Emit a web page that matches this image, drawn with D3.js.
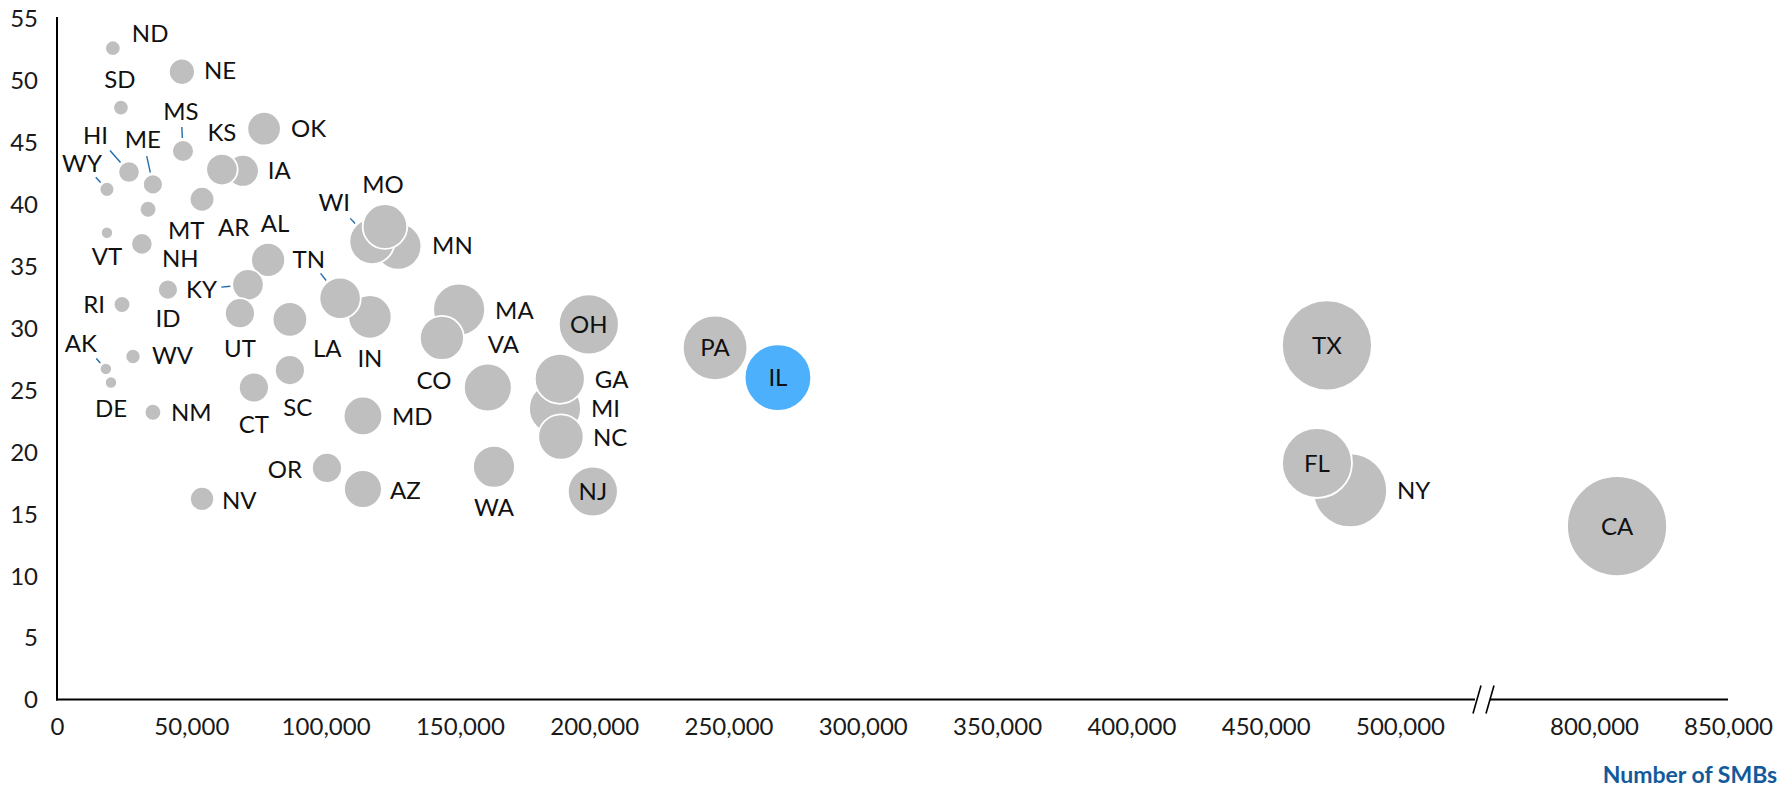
<!DOCTYPE html>
<html>
<head>
<meta charset="utf-8">
<script src="https://cdn.jsdelivr.net/npm/d3@7"></script>
<style>
  html, body { margin: 0; padding: 0; background: #fff; }
  svg { display: block; }
  text { font-family: Lato, "Open Sans", sans-serif; }
</style>
</head>
<body>
<svg id="chart" width="1783" height="787"></svg>
<script>
// ---- data ----
const states = ["ND","NE","SD","MS","OK","KS","IA","HI","ME","WY","MT","AR","VT","NH","AL","ID","RI","KY","UT","LA",
  "TN","IN","WI","MO","MN","AK","DE","WV","CT","SC","NM","MD","OR","AZ","NV","MA","CO","VA","OH","GA",
  "MI","NC","WA","NJ","PA","IL","TX","FL","NY","CA"];
const smbCount = [20800,46500,23800,46900,77100,61400,69200,26800,35700,18600,33900,54000,18600,31600,78600,41300,24200,71100,68100,86700,
  105400,116500,117300,122100,127000,18200,20100,28300,73300,86700,35700,113900,100500,113900,54000,149700,143300,160400,198000,187200,
  185400,187600,162700,199500,245000,268400,472800,469100,481400,808600];
const yValues = [52.6,50.7,47.8,44.3,46.1,42.8,42.7,42.6,41.6,41.2,39.6,40.4,37.7,36.8,35.5,33.1,31.9,33.5,31.2,30.7,
  32.4,30.9,37.0,38.2,36.6,26.7,25.6,27.7,25.2,26.6,23.2,22.9,18.7,17.0,16.2,31.5,29.2,25.2,30.3,25.9,
  23.5,21.2,18.8,16.8,28.4,26.0,28.6,19.1,16.9,14.0];
const bubbleSize = [2.4,6.8,2.4,4.8,11.2,9.9,10.2,4.6,4.0,2.2,2.8,6.1,1.5,4.6,11.6,4.0,2.8,9.9,9.0,12.0,
  17.1,18.8,20.6,19.9,21.7,1.5,1.5,2.3,9.0,9.0,2.8,14.9,9.0,14.4,5.8,27.0,19.4,23.0,36.0,25.0,
  27.0,20.6,17.6,25.0,41.7,44.4,81.0,49.0,54.8,100];
const highlighted = "IL";
const yTicks = [0,5,10,15,20,25,30,35,40,45,50,55];
const xTicks = [0,50000,100000,150000,200000,250000,300000,350000,400000,450000,500000,800000,850000];
const xTitle = "Number of SMBs";

// ---- label placement (offsets from bubble centre, px) ----
const labelPlacement = {
  ND:["start",19,-15], NE:["start",22,-1], SD:["middle",-1,-28], MS:["middle",-2,-40,11],
  OK:["start",27,0], KS:["middle",0,-37], IA:["start",25,0], HI:["end",-21,-37,16],
  ME:["middle",-10,-45,17], WY:["end",-5,-26,7], MT:["start",20,21], AR:["start",16,28],
  VT:["middle",0,24], NH:["start",20,15], AL:["middle",7,-37], ID:["middle",0,29],
  RI:["end",-17,0], KY:["end",-31,5,9], UT:["middle",0,35], LA:["start",23,29],
  TN:["end",-15,-39,9], IN:["middle",0,41], WI:["end",-22,-39,7], MO:["middle",-2,-42],
  MN:["start",34,-1], AK:["end",-9,-26,6], DE:["middle",0,26], WV:["start",19,-1],
  CT:["middle",0,37], SC:["middle",8,37], NM:["start",18,0], MD:["start",29,0],
  OR:["end",-25,1], AZ:["start",27,1], NV:["start",20,1], MA:["start",36,1],
  CO:["middle",-8,42], VA:["start",0,-43], OH:["middle",0,0], GA:["start",35,1],
  MI:["start",36,0], NC:["start",32,0], WA:["middle",0,41], NJ:["middle",0,0],
  PA:["middle",0,0], IL:["middle",0,0], TX:["middle",0,0], FL:["middle",0,0],
  NY:["start",47,0], CA:["middle",0,0]
};

const data = states.map((s, i) => ({ state: s, smbs: smbCount[i], value: yValues[i], size: bubbleSize[i] }));

// ---- scales ----
const xAxisLeft = 57, xAxisRight = 1728, yBase = 699.5, yTop = 18.5;
// broken x-axis: 500,000 to 800,000 is compressed into the break
const x = d3.scaleLinear()
  .domain([0, 500000, 800000, 850000])
  .range([xAxisLeft, 1400, 1594, xAxisRight]);
const y = d3.scaleLinear().domain([0, 55]).range([yBase, yTop]);
const r = d3.scaleSqrt().domain([0, 100]).range([0, 50]);

const svg = d3.select("#chart");

// ---- axes ----
const fontSize = 24;
const yAxis = d3.axisLeft(y).tickValues(yTicks).tickSize(0).tickPadding(19);
const gy = svg.append("g").attr("transform", `translate(${xAxisLeft},0)`).call(yAxis);
gy.select(".domain").remove();
gy.selectAll("text").attr("font-size", fontSize).attr("fill", "#1a1a1a")
  .attr("font-family", "Lato, sans-serif").attr("dy", "0.35em");

const xAxis = d3.axisBottom(x).tickValues(xTicks).tickSize(0).tickPadding(18)
  .tickFormat(d3.format(","));
const gx = svg.append("g").attr("transform", `translate(0,${yBase})`).call(xAxis);
gx.select(".domain").remove();
gx.selectAll("text").attr("font-size", fontSize).attr("fill", "#1a1a1a")
  .attr("font-family", "Lato, sans-serif").attr("dy", "0.71em");

// axis lines with a break
const breakL = 1475, breakR = 1490;
const axisG = svg.append("g").attr("stroke", "#000").attr("stroke-width", 2).attr("fill", "none");
axisG.append("line").attr("x1", xAxisLeft).attr("x2", xAxisLeft).attr("y1", 17).attr("y2", yBase + 1);
axisG.append("line").attr("x1", xAxisLeft - 1).attr("x2", breakL).attr("y1", yBase).attr("y2", yBase);
axisG.append("line").attr("x1", breakR).attr("x2", xAxisRight).attr("y1", yBase).attr("y2", yBase);
axisG.append("line").attr("x1", breakL - 2).attr("y1", yBase + 14).attr("x2", breakL + 6).attr("y2", yBase - 14).attr("stroke-width", 1.6);
axisG.append("line").attr("x1", breakR - 4).attr("y1", yBase + 14).attr("x2", breakR + 4).attr("y2", yBase - 14).attr("stroke-width", 1.6);

svg.append("text")
  .attr("x", 1777).attr("y", 783)
  .attr("text-anchor", "end")
  .attr("font-family", "'DejaVu Sans', sans-serif")
  .attr("font-weight", "bold")
  .attr("font-size", 23)
  .attr("fill", "#135A9A")
  .text(xTitle);

// ---- bubbles (larger first so smaller ones sit on top) ----
const ordered = data.slice().sort((a, b) => b.size - a.size);
svg.append("g").selectAll("circle")
  .data(ordered)
  .join("circle")
  .attr("cx", d => x(d.smbs))
  .attr("cy", d => y(d.value))
  .attr("r", d => r(d.size))
  .attr("fill", d => d.state === highlighted ? "#4DB0FD" : "#BFBFBF")
  .attr("stroke", "#fff")
  .attr("stroke-width", 1.8);

// ---- labels ----
const labelG = svg.append("g");
const labels = labelG.selectAll("text")
  .data(data)
  .join("text")
  .attr("x", d => x(d.smbs) + labelPlacement[d.state][1])
  .attr("y", d => y(d.value) + labelPlacement[d.state][2])
  .attr("dy", "0.36em")
  .attr("text-anchor", d => labelPlacement[d.state][0])
  .attr("font-size", fontSize)
  .attr("fill", "#111")
  .text(d => d.state);

// leader lines from bubble edge toward their label
labels.each(function(d) {
  const p = labelPlacement[d.state];
  if (p.length < 4) return;
  const bb = this.getBBox();
  const cx = x(d.smbs), cy = y(d.value), rad = r(d.size);
  const lx = bb.x + bb.width / 2, ly = bb.y + bb.height / 2;
  const len = Math.hypot(lx - cx, ly - cy);
  const ux = (lx - cx) / len, uy = (ly - cy) / len;
  labelG.append("line")
    .attr("x1", cx + ux * (rad + 2)).attr("y1", cy + uy * (rad + 2))
    .attr("x2", cx + ux * (rad + 2 + p[3])).attr("y2", cy + uy * (rad + 2 + p[3]))
    .attr("stroke", "#1F6CB0").attr("stroke-width", 1.4);
});
</script>
</body>
</html>
